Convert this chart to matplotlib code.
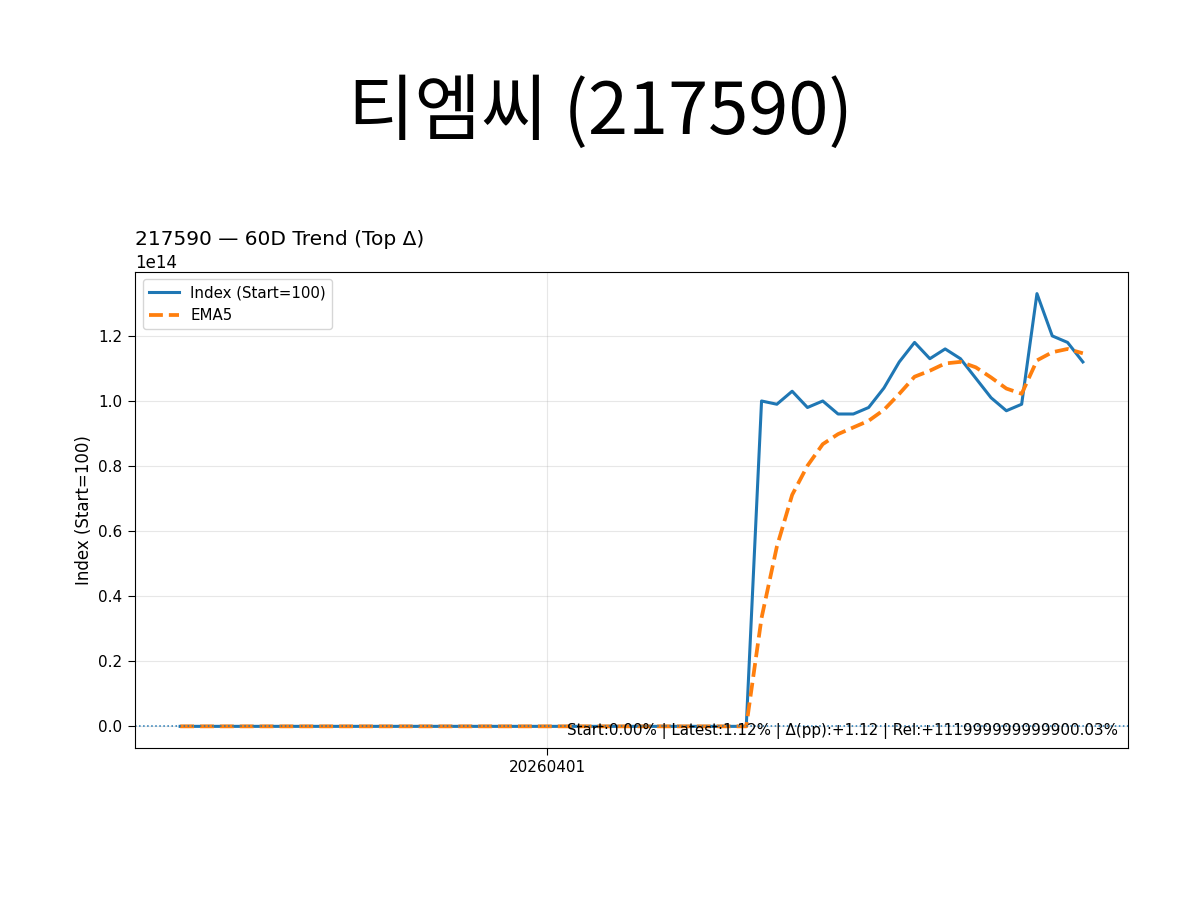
import numpy as np
import pandas as pd
import matplotlib
matplotlib.use("Agg")
import matplotlib.pyplot as plt

# index values (start = 100); first 38 sessions flat, then the jump
flat_days = 38
index_tail = [1.00e14, 0.99e14, 1.03e14, 0.98e14, 1.00e14, 0.96e14, 0.96e14, 0.98e14,
              1.04e14, 1.12e14, 1.18e14, 1.13e14, 1.16e14, 1.13e14, 1.07e14, 1.01e14,
              0.97e14, 0.99e14, 1.33e14, 1.20e14, 1.18e14, 1.12e14]
index_vals = [100.0] * flat_days + index_tail
tick_pos = [24]
tick_labels = ["20260401"]
stats_text = "Start:0.00% | Latest:1.12% | Δ(pp):+1.12 | Rel:+111999999999900.03%"

s = pd.Series(index_vals)
ema5 = s.ewm(span=5, adjust=False).mean()
x = np.arange(len(s))

plt.rcParams["ytick.labelsize"] = 11
plt.rcParams["xtick.labelsize"] = 11
for a in ("xtick", "ytick"):
    plt.rcParams[a + ".major.size"] = 4.7
    plt.rcParams[a + ".major.pad"] = 4.3

fig = plt.figure(figsize=(12, 9), dpi=100)
fig.suptitle("티엠씨 (217590)", fontsize=52, y=0.915,
             family=["Noto Sans CJK KR", "DejaVu Sans"])

ax = fig.add_axes([0.1125, 0.1689, 0.8275, 0.5289])
ax.plot(x, s, color="C0", lw=2.2, label="Index (Start=100)")
ax.plot(x, ema5, color="C1", lw=2.7, ls="--", label="EMA5")
ax.axhline(100, color="C0", lw=1.1, ls=":")

ax.set_xticks(tick_pos)
ax.set_xticklabels(tick_labels)
ax.grid(True, alpha=0.3)
ax.set_ylabel("Index (Start=100)", fontsize=12)
ax.set_title("217590 — 60D Trend (Top Δ)", loc="left", fontsize=14.5)
ax.yaxis.get_offset_text().set_fontsize(12)
ax.legend(loc="upper left", fontsize=10.8)
ax.text(0.99, 0.018, stats_text, transform=ax.transAxes, ha="right", va="bottom", fontsize=10.9)

fig.savefig("out.png", dpi=100)
